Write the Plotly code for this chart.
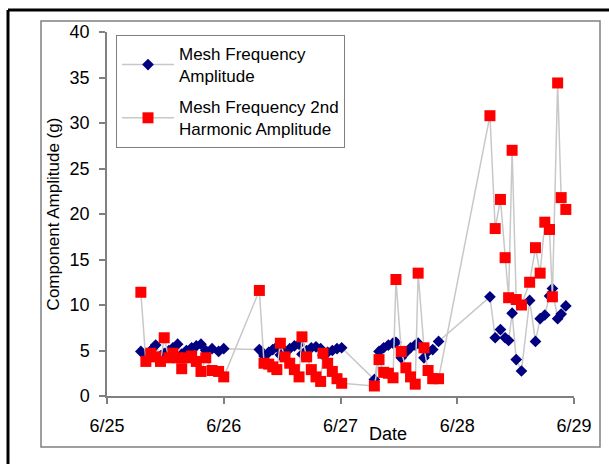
import pandas as pd
import plotly.graph_objects as go

# Sample times, in fractional days after 6/25 00:00
t_days = [
    0.29, 0.333, 0.375, 0.417, 0.458, 0.49, 0.53, 0.565, 0.605, 0.64, 0.68, 0.725, 0.765, 0.805, 0.846, 0.9, 0.956, 1.0,
    1.305, 1.345, 1.385, 1.42, 1.455, 1.485, 1.525, 1.565, 1.605, 1.645, 1.67, 1.71, 1.75, 1.79, 1.83, 1.85, 1.89, 1.93, 1.97, 2.01,
    2.29, 2.33, 2.37, 2.41, 2.45, 2.475, 2.52, 2.56, 2.6, 2.64, 2.665, 2.715, 2.75, 2.79, 2.84,
    3.28, 3.325, 3.37, 3.41, 3.44, 3.47, 3.505, 3.55, 3.62, 3.67, 3.71, 3.75, 3.79, 3.815, 3.86, 3.89, 3.93,
]
mesh_amp = [
    4.9, 4.5, 5.0, 5.6, 4.4, 4.7, 5.0, 5.3, 5.7, 4.6, 5.0, 5.3, 5.5, 5.7, 5.0, 5.2, 4.9, 5.2,
    5.1, 4.4, 4.8, 5.1, 5.4, 4.5, 4.9, 5.2, 5.5, 5.7, 4.6, 5.0, 5.3, 5.4, 5.2, 4.5, 4.8, 5.0, 5.2, 5.3,
    1.8, 4.9, 5.3, 5.6, 5.8, 5.9, 4.2, 4.8, 5.3, 5.6, 5.8, 4.2, 4.9, 5.1, 6.0,
    10.9, 6.4, 7.3, 6.4, 6.1, 9.1, 4.0, 2.75, 10.5, 6.0, 8.5, 8.9, 11.0, 11.8, 8.5, 9.0, 9.9,
]
harmonic_amp = [
    11.4, 3.8, 4.7, 4.3, 3.8, 6.4, 4.2, 4.7, 4.2, 3.0, 4.2, 4.4, 3.8, 2.7, 4.2, 2.8, 2.7, 2.1,
    11.6, 3.6, 3.5, 3.2, 2.9, 5.8, 4.3, 3.6, 2.9, 2.1, 6.5, 4.3, 2.9, 2.1, 1.6, 4.7, 3.6, 2.7, 1.9, 1.4,
    1.1, 4.0, 2.6, 2.5, 2.0, 12.8, 4.9, 3.1, 2.1, 1.3, 13.5, 5.3, 2.8, 1.9, 1.9,
    30.8, 18.4, 21.6, 15.2, 10.8, 27.0, 10.6, 10.0, 12.5, 16.3, 13.5, 19.1, 18.3, 10.9, 34.4, 21.8, 20.5,
]
tick_dates = ["2008-06-25", "2008-06-26", "2008-06-27", "2008-06-28", "2008-06-29"]
tick_labels = ["6/25", "6/26", "6/27", "6/28", "6/29"]
y_ticks = [0, 5, 10, 15, 20, 25, 30, 35, 40]

base = pd.Timestamp("2008-06-25")
times = [base + pd.Timedelta(days=d) for d in t_days]

FONT = "Arial, Liberation Sans, sans-serif"

fig = go.Figure()
fig.add_trace(go.Scatter(
    x=times, y=mesh_amp, mode="lines+markers",
    name="Mesh Frequency<br>Amplitude", legendgroup="a",
    line=dict(color="#C8C8C8", width=1.5),
    marker=dict(symbol="diamond", size=9, color="#000080"),
))
fig.add_trace(go.Scatter(
    x=times, y=harmonic_amp, mode="lines+markers",
    name="Mesh Frequency 2nd<br>Harmonic Amplitude", legendgroup="b",
    line=dict(color="#C8C8C8", width=1.5),
    marker=dict(symbol="square", size=11, color="#FF0000"),
))

W, H = 609, 464
L, R, T, B = 107, 574, 32, 396
pw, ph = R - L, B - T


def px(x):
    return (x - L) / pw


def py(y):
    return (B - y) / ph


fig.update_layout(
    width=W, height=H,
    margin=dict(l=L, r=W - R, t=T, b=H - B),
    plot_bgcolor="white", paper_bgcolor="white",
    font=dict(family=FONT, size=18, color="black"),
    showlegend=True,
    legend=dict(
        x=px(116), y=py(35), xanchor="left", yanchor="top",
        bgcolor="white", bordercolor="#808080", borderwidth=1,
        font=dict(family=FONT, size=17, color="black"),
        traceorder="grouped", tracegroupgap=6, itemwidth=52,
    ),
    xaxis=dict(
        type="date",
        range=[tick_dates[0], tick_dates[-1]],
        tickvals=tick_dates, ticktext=tick_labels,
        showgrid=False, zeroline=False,
        showline=True, linecolor="#808080", linewidth=1.5,
        ticks="outside", ticklen=6, tickcolor="#808080", tickwidth=1.5,
        tickfont=dict(size=18), ticklabelstandoff=7,
    ),
    yaxis=dict(
        range=[0, 40], tickvals=y_ticks,
        showgrid=False, zeroline=False,
        showline=True, linecolor="#808080", linewidth=1.5,
        ticks="outside", ticklen=6, tickcolor="#808080", tickwidth=1.5,
        tickfont=dict(size=18), ticklabelstandoff=6,
        title=dict(text="Component Amplitude (g)", font=dict(size=17), standoff=6),
    ),
    shapes=[
        dict(type="rect", xref="paper", yref="paper",
             x0=px(41), x1=px(600), y0=py(447), y1=py(21),
             line=dict(color="#808080", width=1.5), fillcolor="rgba(0,0,0,0)", layer="below"),
        dict(type="line", xref="paper", yref="paper",
             x0=px(8), x1=px(620), y0=py(10), y1=py(10),
             line=dict(color="black", width=3)),
        dict(type="line", xref="paper", yref="paper",
             x0=px(8), x1=px(8), y0=py(10), y1=py(470),
             line=dict(color="black", width=3)),
    ],
    annotations=[
        dict(text="Date", xref="paper", yref="paper", x=px(388), y=py(434),
             xanchor="center", yanchor="middle", showarrow=False,
             font=dict(size=18, family=FONT)),
    ],
)

fig.write_html("out.html")
